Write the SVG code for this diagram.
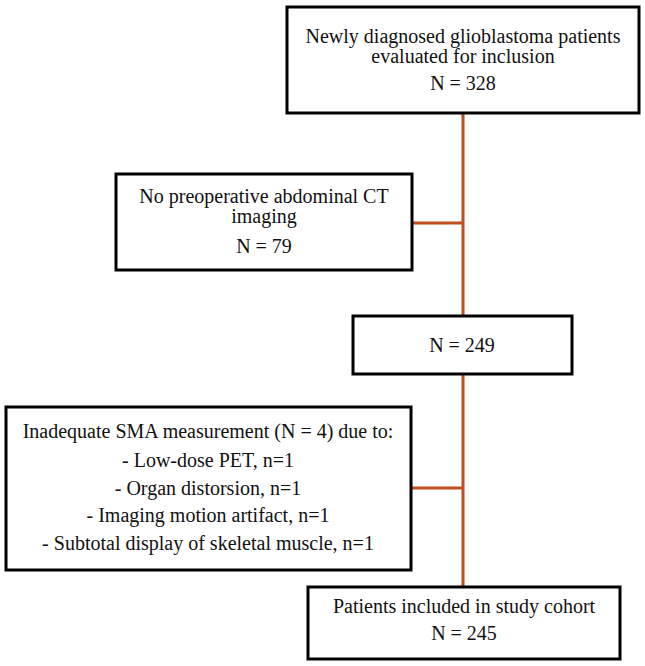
<svg xmlns="http://www.w3.org/2000/svg" width="645" height="666" viewBox="0 0 645 666">
<style>
.box{fill:#fff;stroke:#000;stroke-width:3}
.t{font-family:"Liberation Serif","Times New Roman",serif;font-size:20px;fill:#111;text-anchor:middle}
.c{stroke:#c24e1c;stroke-width:3;fill:none}
</style>
<rect width="645" height="666" fill="#fff"/>
<g id="connectors">
<line class="c" x1="463" y1="113" x2="463" y2="587"/>
<line class="c" x1="412" y1="223" x2="463" y2="223"/>
<line class="c" x1="411" y1="488" x2="463" y2="488"/>
</g>
<g id="n1">
<rect class="box" x="287" y="7" width="352" height="106"/>
<text class="t" x="463" y="43">Newly diagnosed glioblastoma patients</text>
<text class="t" x="463" y="63">evaluated for inclusion</text>
<text class="t" x="463" y="90">N = 328</text>
</g>
<g id="n2">
<rect class="box" x="116" y="174" width="296" height="96"/>
<text class="t" x="264" y="203">No preoperative abdominal CT</text>
<text class="t" x="264" y="223">imaging</text>
<text class="t" x="264" y="253">N = 79</text>
</g>
<g id="n3">
<rect class="box" x="353" y="316" width="219" height="58"/>
<text class="t" x="462" y="352">N = 249</text>
</g>
<g id="n4">
<rect class="box" x="6" y="407" width="405" height="163"/>
<text class="t" x="208" y="438">Inadequate SMA measurement (N = 4) due to:</text>
<text class="t" x="208" y="467">- Low-dose PET, n=1</text>
<text class="t" x="208" y="495">- Organ distorsion, n=1</text>
<text class="t" x="208" y="522">- Imaging motion artifact, n=1</text>
<text class="t" x="208" y="550">- Subtotal display of skeletal muscle, n=1</text>
</g>
<g id="n5">
<rect class="box" x="308" y="587" width="312" height="72"/>
<text class="t" x="464" y="613">Patients included in study cohort</text>
<text class="t" x="464" y="640">N = 245</text>
</g>
</svg>
